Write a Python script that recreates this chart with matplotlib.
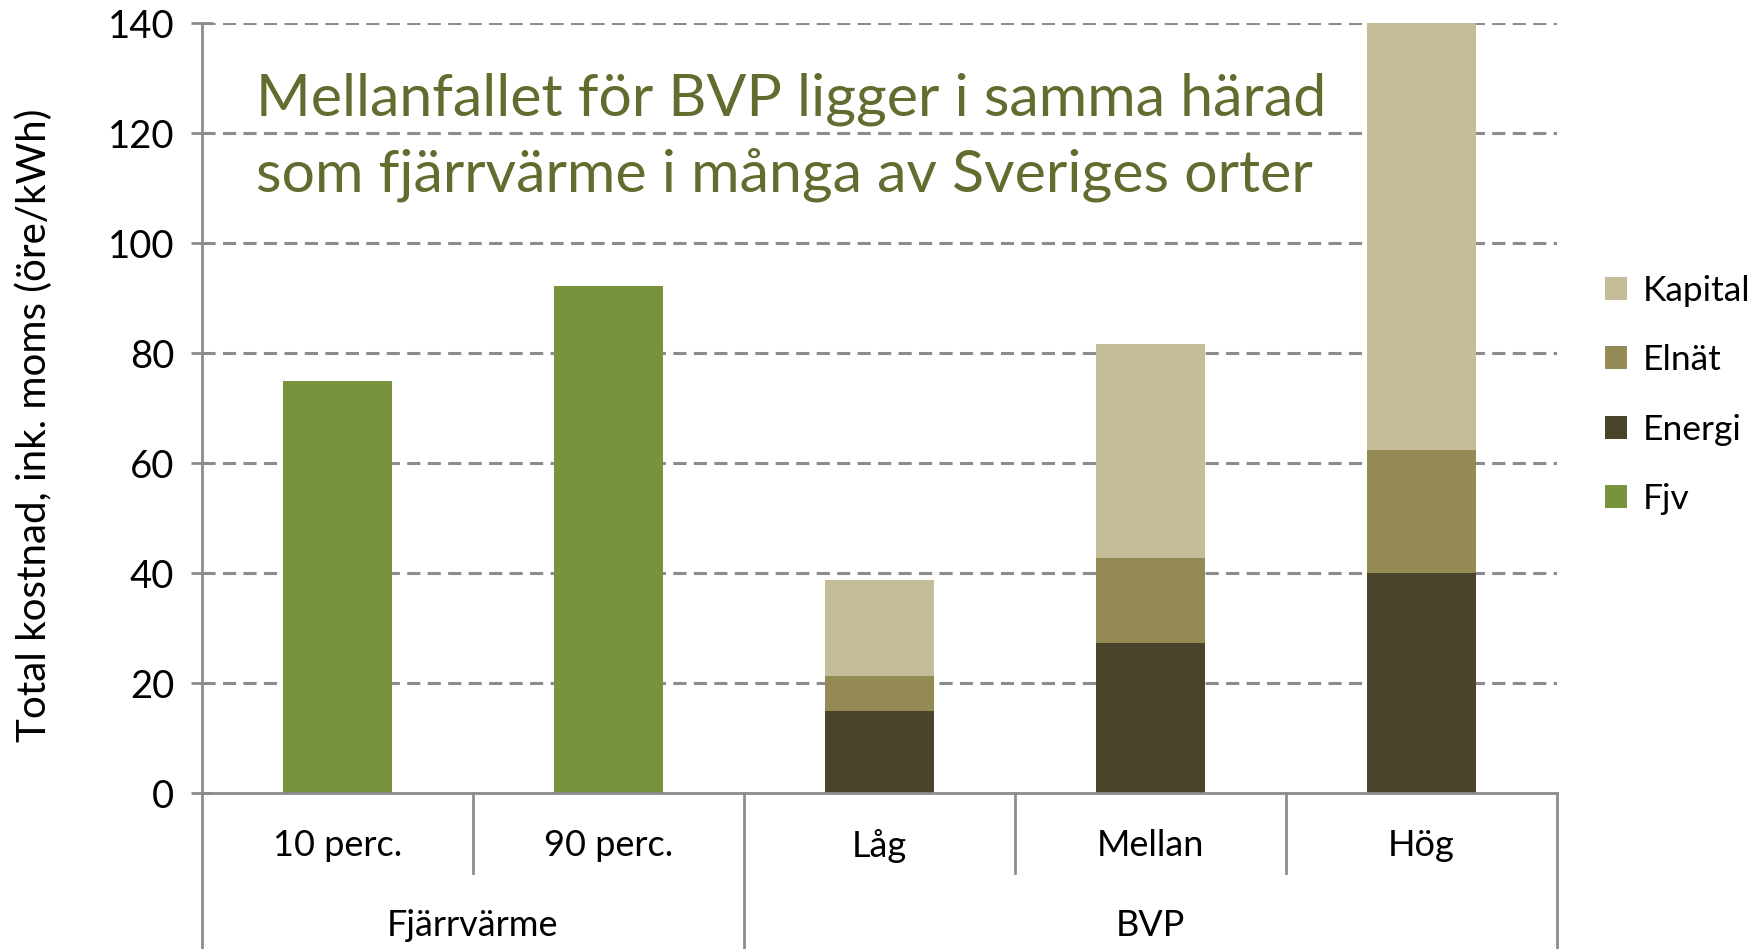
import matplotlib
matplotlib.use("Agg")
import matplotlib.pyplot as plt
import numpy as np

# ---- data ----
categories = ["10 perc.", "90 perc.", "Låg", "Mellan", "Hög"]
groups = ["Fjärrvärme", "BVP"]
group_sizes = [2, 3]
fjv = [75.0, 92.3, 0, 0, 0]
energi = [0, 0, 15.0, 27.3, 40.0]
elnat = [0, 0, 6.3, 15.4, 22.4]
kapital = [0, 0, 17.4, 39.0, 77.6]
yticks = [0, 20, 40, 60, 80, 100, 120, 140]
title_lines = ["Mellanfallet för BVP ligger i samma härad",
               "som fjärrvärme i många av Sveriges orter"]
ylabel = "Total kostnad, ink. moms (öre/kWh)"

c_fjv = "#77933C"
c_energi = "#4A452A"
c_elnat = "#948A54"
c_kapital = "#C4BD97"
axis_gray = "#8C8C8C"

plt.rcParams['font.family'] = ['Lato', 'DejaVu Sans']

W, H = 1764, 949
fig = plt.figure(figsize=(W / 100, H / 100), dpi=100)
ax = fig.add_axes([202 / W, 1 - 793.3 / H, (1557 - 202) / W, 770 / H])

x = np.arange(len(categories))
bw = 0.40
ax.bar(x, fjv, bw, color=c_fjv, label="Fjv", zorder=3)
ax.bar(x, energi, bw, color=c_energi, label="Energi", zorder=3)
ax.bar(x, elnat, bw, bottom=energi, color=c_elnat, label="Elnät", zorder=3)
ax.bar(x, kapital, bw, bottom=np.array(energi) + np.array(elnat),
       color=c_kapital, label="Kapital", zorder=3)

ax.set_xlim(-0.5, len(categories) - 0.5)
ax.set_ylim(0, 140)
ax.set_yticks(yticks)
ax.set_yticklabels([str(t) for t in yticks], fontsize=27.5)
ax.tick_params(axis='y', direction='inout', length=16, width=2, color=axis_gray, pad=12)
ax.set_xticks([])
for t in yticks[1:]:
    ax.axhline(t, color=axis_gray, lw=2.2, dashes=[4.3, 2.4], zorder=1)

for s in ["top", "right"]:
    ax.spines[s].set_visible(False)
for s in ["left", "bottom"]:
    ax.spines[s].set_color(axis_gray)
    ax.spines[s].set_linewidth(2)
ax.spines['bottom'].set_zorder(4)

# hierarchical x-axis
trans = ax.get_xaxis_transform()
ax_h_px = 770
def yax(px_below):
    return -px_below / ax_h_px

for i, c in enumerate(categories):
    ax.text(i, yax(846 - 793.3), c, transform=trans, ha='center', va='center',
            fontsize=26, color='black')
# separators
bounds = np.cumsum([0] + group_sizes)
for b in range(len(categories) + 1):
    xb = b - 0.5
    if b in bounds:
        y_end = yax(H - 793.3)
    else:
        y_end = yax(873 - 793.3)
    ax.plot([xb, xb], [0, y_end], transform=trans, color=axis_gray, lw=2,
            clip_on=False, zorder=4)
for gi, g in enumerate(groups):
    xc = (bounds[gi] + bounds[gi + 1] - 1) / 2
    ax.text(xc, yax(926 - 793.3), g, transform=trans, ha='center', va='center',
            fontsize=26, color='black')

# y label
fig.text(34 / W, 1 - 425 / H, ylabel, rotation=90, ha='center', va='center',
         fontsize=29)

# title lines (fit width)
tcolor = "#636B2F"
t1 = fig.text(256 / W, 1 - 115 / H, title_lines[0], ha='left', va='baseline',
              fontsize=36, color=tcolor)
fig.canvas.draw()
r = fig.canvas.get_renderer()
w = t1.get_window_extent(r).width
fs = 36 * (1069 / w)
t1.set_fontsize(fs)
fig.text(256 / W, 1 - 192 / H, title_lines[1], ha='left', va='baseline',
         fontsize=fs, color=tcolor)

# legend
handles, labels = ax.get_legend_handles_labels()
order = [3, 2, 1, 0]
leg = ax.legend([handles[i] for i in order], [labels[i] for i in order],
                loc='center left', bbox_to_anchor=(1605 / W, 1 - 395 / H),
                bbox_transform=fig.transFigure, frameon=False, fontsize=25.5,
                handlelength=0.62, handleheight=0.62, handletextpad=0.45,
                labelspacing=1.05, borderpad=0, borderaxespad=0)

fig.savefig("out.png", dpi=100)
